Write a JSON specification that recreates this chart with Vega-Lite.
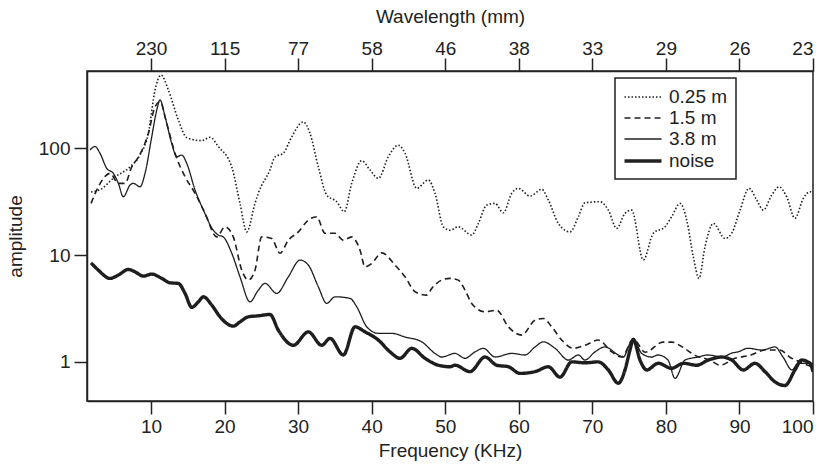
{
  "$schema": "https://vega.github.io/schema/vega-lite/v6.json",
  "width": 726,
  "height": 330,
  "autosize": {"type": "none"},
  "padding": {"left": 87, "top": 71, "right": 17, "bottom": 63},
  "background": "white",
  "config": {
    "font": "Liberation Sans",
    "view": {"stroke": "#222", "strokeWidth": 1.5},
    "axis": {
      "grid": false,
      "domainColor": "#222",
      "domainWidth": 1.5,
      "tickColor": "#222",
      "tickWidth": 1.5,
      "tickSize": 13,
      "labelFontSize": 19,
      "labelColor": "#222",
      "titleFontSize": 19,
      "titleFontWeight": "normal",
      "titleColor": "#222"
    },
    "legend": {
      "orient": "none",
      "legendX": 528,
      "legendY": 7,
      "strokeColor": "#222",
      "strokeWidth": 1.5,
      "fillColor": "white",
      "padding": 8,
      "symbolType": "M-1.85,0L1.85,0",
      "symbolSize": 400,
      "symbolOffset": 8,
      "symbolStrokeColor": "#222",
      "labelFontSize": 19,
      "labelColor": "#222",
      "labelOffset": 14,
      "rowPadding": 0
    }
  },
  "data": {
    "values": [
      {"series": "0.25 m", "freq": 1.85, "amp": 39},
      {"series": "0.25 m", "freq": 3.07, "amp": 41},
      {"series": "0.25 m", "freq": 5.11, "amp": 54},
      {"series": "0.25 m", "freq": 7.15, "amp": 67},
      {"series": "0.25 m", "freq": 8.51, "amp": 87},
      {"series": "0.25 m", "freq": 9.64, "amp": 138},
      {"series": "0.25 m", "freq": 10.55, "amp": 352},
      {"series": "0.25 m", "freq": 11.37, "amp": 486},
      {"series": "0.25 m", "freq": 12.36, "amp": 352},
      {"series": "0.25 m", "freq": 13.72, "amp": 184},
      {"series": "0.25 m", "freq": 14.86, "amp": 126},
      {"series": "0.25 m", "freq": 16.9, "amp": 118},
      {"series": "0.25 m", "freq": 18.03, "amp": 127},
      {"series": "0.25 m", "freq": 19.15, "amp": 104},
      {"series": "0.25 m", "freq": 20.98, "amp": 67},
      {"series": "0.25 m", "freq": 22.1, "amp": 30.5},
      {"series": "0.25 m", "freq": 23.02, "amp": 16.5},
      {"series": "0.25 m", "freq": 24.14, "amp": 30.5},
      {"series": "0.25 m", "freq": 24.59, "amp": 38},
      {"series": "0.25 m", "freq": 26.18, "amp": 63},
      {"series": "0.25 m", "freq": 26.86, "amp": 83},
      {"series": "0.25 m", "freq": 27.99, "amp": 90},
      {"series": "0.25 m", "freq": 29.13, "amp": 128},
      {"series": "0.25 m", "freq": 30.71, "amp": 177},
      {"series": "0.25 m", "freq": 31.62, "amp": 138},
      {"series": "0.25 m", "freq": 32.75, "amp": 67},
      {"series": "0.25 m", "freq": 33.89, "amp": 36.5},
      {"series": "0.25 m", "freq": 35.25, "amp": 31.6},
      {"series": "0.25 m", "freq": 36.28, "amp": 25.5},
      {"series": "0.25 m", "freq": 37.29, "amp": 47},
      {"series": "0.25 m", "freq": 38.65, "amp": 76.5},
      {"series": "0.25 m", "freq": 39.78, "amp": 62.6},
      {"series": "0.25 m", "freq": 40.91, "amp": 52.3},
      {"series": "0.25 m", "freq": 42.27, "amp": 83.4},
      {"series": "0.25 m", "freq": 43.62, "amp": 107},
      {"series": "0.25 m", "freq": 44.54, "amp": 89.8},
      {"series": "0.25 m", "freq": 46.13, "amp": 42.2},
      {"series": "0.25 m", "freq": 47.7, "amp": 50.5},
      {"series": "0.25 m", "freq": 48.61, "amp": 37.9},
      {"series": "0.25 m", "freq": 49.74, "amp": 18.4},
      {"series": "0.25 m", "freq": 50.65, "amp": 17.1},
      {"series": "0.25 m", "freq": 51.78, "amp": 18.4},
      {"series": "0.25 m", "freq": 53.6, "amp": 15.4},
      {"series": "0.25 m", "freq": 54.5, "amp": 19.8},
      {"series": "0.25 m", "freq": 55.64, "amp": 29.4},
      {"series": "0.25 m", "freq": 56.77, "amp": 30.5},
      {"series": "0.25 m", "freq": 57.9, "amp": 24.9},
      {"series": "0.25 m", "freq": 59.04, "amp": 37.9},
      {"series": "0.25 m", "freq": 59.94, "amp": 42.2},
      {"series": "0.25 m", "freq": 61.53, "amp": 35.7},
      {"series": "0.25 m", "freq": 63.12, "amp": 41.3},
      {"series": "0.25 m", "freq": 64.02, "amp": 32.8},
      {"series": "0.25 m", "freq": 65.38, "amp": 19.8},
      {"series": "0.25 m", "freq": 66.97, "amp": 16.5},
      {"series": "0.25 m", "freq": 68.1, "amp": 22.9},
      {"series": "0.25 m", "freq": 69.0, "amp": 30.9},
      {"series": "0.25 m", "freq": 71.04, "amp": 31.6},
      {"series": "0.25 m", "freq": 72.17, "amp": 26.4},
      {"series": "0.25 m", "freq": 73.31, "amp": 17.8},
      {"series": "0.25 m", "freq": 74.44, "amp": 24.6},
      {"series": "0.25 m", "freq": 75.35, "amp": 26.4},
      {"series": "0.25 m", "freq": 76.93, "amp": 9.0},
      {"series": "0.25 m", "freq": 78.29, "amp": 16},
      {"series": "0.25 m", "freq": 79.88, "amp": 18.4},
      {"series": "0.25 m", "freq": 80.79, "amp": 22.9},
      {"series": "0.25 m", "freq": 81.92, "amp": 30.5},
      {"series": "0.25 m", "freq": 82.83, "amp": 21.3},
      {"series": "0.25 m", "freq": 83.73, "amp": 9.64},
      {"series": "0.25 m", "freq": 84.5, "amp": 6.05},
      {"series": "0.25 m", "freq": 85.32, "amp": 12},
      {"series": "0.25 m", "freq": 86.45, "amp": 19.8},
      {"series": "0.25 m", "freq": 88.04, "amp": 14.3},
      {"series": "0.25 m", "freq": 88.95, "amp": 16},
      {"series": "0.25 m", "freq": 90.08, "amp": 26.4},
      {"series": "0.25 m", "freq": 91.3, "amp": 42.2},
      {"series": "0.25 m", "freq": 92.35, "amp": 32.8},
      {"series": "0.25 m", "freq": 93.24, "amp": 26.4},
      {"series": "0.25 m", "freq": 94.39, "amp": 36.5},
      {"series": "0.25 m", "freq": 95.38, "amp": 43.6},
      {"series": "0.25 m", "freq": 96.42, "amp": 35.2},
      {"series": "0.25 m", "freq": 97.55, "amp": 22.1},
      {"series": "0.25 m", "freq": 98.68, "amp": 34},
      {"series": "0.25 m", "freq": 99.59, "amp": 39.2},
      {"series": "0.25 m", "freq": 100, "amp": 38},

      {"series": "1.5 m", "freq": 1.85, "amp": 30.5},
      {"series": "1.5 m", "freq": 2.84, "amp": 43.6},
      {"series": "1.5 m", "freq": 4.43, "amp": 58.3},
      {"series": "1.5 m", "freq": 5.56, "amp": 47},
      {"series": "1.5 m", "freq": 6.47, "amp": 47},
      {"series": "1.5 m", "freq": 7.38, "amp": 67},
      {"series": "1.5 m", "freq": 8.28, "amp": 82.4},
      {"series": "1.5 m", "freq": 9.64, "amp": 138},
      {"series": "1.5 m", "freq": 10.55, "amp": 245},
      {"series": "1.5 m", "freq": 11.23, "amp": 273},
      {"series": "1.5 m", "freq": 12.14, "amp": 171},
      {"series": "1.5 m", "freq": 13.27, "amp": 89.8},
      {"series": "1.5 m", "freq": 14.63, "amp": 54.2},
      {"series": "1.5 m", "freq": 15.99, "amp": 37.9},
      {"series": "1.5 m", "freq": 17.35, "amp": 24.6},
      {"series": "1.5 m", "freq": 18.94, "amp": 14.8},
      {"series": "1.5 m", "freq": 20.07, "amp": 18.4},
      {"series": "1.5 m", "freq": 21.19, "amp": 14.8},
      {"series": "1.5 m", "freq": 22.34, "amp": 7.23},
      {"series": "1.5 m", "freq": 23.23, "amp": 5.83},
      {"series": "1.5 m", "freq": 24.14, "amp": 7.23},
      {"series": "1.5 m", "freq": 25.05, "amp": 14.8},
      {"series": "1.5 m", "freq": 26.41, "amp": 14.3},
      {"series": "1.5 m", "freq": 27.54, "amp": 10.4},
      {"series": "1.5 m", "freq": 28.67, "amp": 13.8},
      {"series": "1.5 m", "freq": 30.03, "amp": 16.5},
      {"series": "1.5 m", "freq": 31.39, "amp": 21.3},
      {"series": "1.5 m", "freq": 32.53, "amp": 22.9},
      {"series": "1.5 m", "freq": 33.66, "amp": 16},
      {"series": "1.5 m", "freq": 35.02, "amp": 16},
      {"series": "1.5 m", "freq": 36.15, "amp": 13.8},
      {"series": "1.5 m", "freq": 37.29, "amp": 14.8},
      {"series": "1.5 m", "freq": 38.42, "amp": 11.1},
      {"series": "1.5 m", "freq": 39.1, "amp": 7.77},
      {"series": "1.5 m", "freq": 40.01, "amp": 8.36},
      {"series": "1.5 m", "freq": 41.37, "amp": 10.5},
      {"series": "1.5 m", "freq": 43.18, "amp": 8.06},
      {"series": "1.5 m", "freq": 44.54, "amp": 6.26},
      {"series": "1.5 m", "freq": 45.9, "amp": 4.53},
      {"series": "1.5 m", "freq": 47.49, "amp": 4.22},
      {"series": "1.5 m", "freq": 48.17, "amp": 4.88},
      {"series": "1.5 m", "freq": 49.52, "amp": 5.83},
      {"series": "1.5 m", "freq": 50.65, "amp": 6.05},
      {"series": "1.5 m", "freq": 51.78, "amp": 5.83},
      {"series": "1.5 m", "freq": 52.69, "amp": 4.7},
      {"series": "1.5 m", "freq": 53.6, "amp": 3.53},
      {"series": "1.5 m", "freq": 55.41, "amp": 2.94},
      {"series": "1.5 m", "freq": 57.0, "amp": 3.05},
      {"series": "1.5 m", "freq": 58.58, "amp": 2.13},
      {"series": "1.5 m", "freq": 60.4, "amp": 1.78},
      {"series": "1.5 m", "freq": 62.21, "amp": 2.46},
      {"series": "1.5 m", "freq": 63.34, "amp": 2.55},
      {"series": "1.5 m", "freq": 64.48, "amp": 2.13},
      {"series": "1.5 m", "freq": 65.84, "amp": 1.6},
      {"series": "1.5 m", "freq": 67.42, "amp": 1.34},
      {"series": "1.5 m", "freq": 69.0, "amp": 1.43},
      {"series": "1.5 m", "freq": 70.81, "amp": 1.6},
      {"series": "1.5 m", "freq": 72.64, "amp": 1.24},
      {"series": "1.5 m", "freq": 74.0, "amp": 1.11},
      {"series": "1.5 m", "freq": 75.57, "amp": 1.63},
      {"series": "1.5 m", "freq": 77.2, "amp": 1.23},
      {"series": "1.5 m", "freq": 79.6, "amp": 1.53},
      {"series": "1.5 m", "freq": 80.8, "amp": 1.53},
      {"series": "1.5 m", "freq": 82.3, "amp": 1.37},
      {"series": "1.5 m", "freq": 83.95, "amp": 1.15},
      {"series": "1.5 m", "freq": 86.0, "amp": 1.04},
      {"series": "1.5 m", "freq": 87.35, "amp": 0.93},
      {"series": "1.5 m", "freq": 89.4, "amp": 1.08},
      {"series": "1.5 m", "freq": 91.4, "amp": 1.15},
      {"series": "1.5 m", "freq": 93.5, "amp": 1.29},
      {"series": "1.5 m", "freq": 95.5, "amp": 1.29},
      {"series": "1.5 m", "freq": 96.9, "amp": 1.1},
      {"series": "1.5 m", "freq": 98.2, "amp": 1.0},
      {"series": "1.5 m", "freq": 100, "amp": 0.89},

      {"series": "3.8 m", "freq": 1.71, "amp": 96.4},
      {"series": "3.8 m", "freq": 2.39, "amp": 104},
      {"series": "3.8 m", "freq": 3.07, "amp": 89.8},
      {"series": "3.8 m", "freq": 3.98, "amp": 65},
      {"series": "3.8 m", "freq": 4.88, "amp": 58.3},
      {"series": "3.8 m", "freq": 5.56, "amp": 47},
      {"series": "3.8 m", "freq": 6.24, "amp": 35.2},
      {"series": "3.8 m", "freq": 7.15, "amp": 45.3},
      {"series": "3.8 m", "freq": 7.6, "amp": 47},
      {"series": "3.8 m", "freq": 8.51, "amp": 43.6},
      {"series": "3.8 m", "freq": 9.19, "amp": 58.3},
      {"series": "3.8 m", "freq": 10.1, "amp": 128},
      {"series": "3.8 m", "freq": 10.78, "amp": 228},
      {"series": "3.8 m", "freq": 11.23, "amp": 284},
      {"series": "3.8 m", "freq": 11.91, "amp": 198},
      {"series": "3.8 m", "freq": 12.82, "amp": 111},
      {"series": "3.8 m", "freq": 13.5, "amp": 83.4},
      {"series": "3.8 m", "freq": 14.18, "amp": 86.5},
      {"series": "3.8 m", "freq": 14.86, "amp": 72.3},
      {"series": "3.8 m", "freq": 15.99, "amp": 40.6},
      {"series": "3.8 m", "freq": 17.12, "amp": 26.4},
      {"series": "3.8 m", "freq": 18.47, "amp": 17.1},
      {"series": "3.8 m", "freq": 19.15, "amp": 15.4},
      {"series": "3.8 m", "freq": 19.83, "amp": 14.8},
      {"series": "3.8 m", "freq": 20.98, "amp": 10.4},
      {"series": "3.8 m", "freq": 22.1, "amp": 6.26},
      {"series": "3.8 m", "freq": 23.46, "amp": 3.65},
      {"series": "3.8 m", "freq": 24.59, "amp": 4.7},
      {"series": "3.8 m", "freq": 25.5, "amp": 5.43},
      {"series": "3.8 m", "freq": 27.09, "amp": 4.38},
      {"series": "3.8 m", "freq": 28.67, "amp": 6.26},
      {"series": "3.8 m", "freq": 30.26, "amp": 8.98},
      {"series": "3.8 m", "freq": 31.39, "amp": 8.06},
      {"series": "3.8 m", "freq": 32.75, "amp": 5.05},
      {"series": "3.8 m", "freq": 33.89, "amp": 3.53},
      {"series": "3.8 m", "freq": 35.02, "amp": 4.07},
      {"series": "3.8 m", "freq": 37.06, "amp": 3.93},
      {"series": "3.8 m", "freq": 37.97, "amp": 3.28},
      {"series": "3.8 m", "freq": 39.33, "amp": 2.13},
      {"series": "3.8 m", "freq": 40.91, "amp": 1.85},
      {"series": "3.8 m", "freq": 42.73, "amp": 1.85},
      {"series": "3.8 m", "freq": 44.54, "amp": 1.71},
      {"series": "3.8 m", "freq": 46.81, "amp": 1.54},
      {"series": "3.8 m", "freq": 48.61, "amp": 1.2},
      {"series": "3.8 m", "freq": 49.52, "amp": 1.11},
      {"series": "3.8 m", "freq": 51.33, "amp": 1.2},
      {"series": "3.8 m", "freq": 52.69, "amp": 1.08},
      {"series": "3.8 m", "freq": 54.05, "amp": 1.24},
      {"series": "3.8 m", "freq": 55.18, "amp": 1.34},
      {"series": "3.8 m", "freq": 56.77, "amp": 1.11},
      {"series": "3.8 m", "freq": 59.04, "amp": 1.2},
      {"series": "3.8 m", "freq": 60.85, "amp": 1.16},
      {"series": "3.8 m", "freq": 62.21, "amp": 1.38},
      {"series": "3.8 m", "freq": 63.34, "amp": 1.54},
      {"series": "3.8 m", "freq": 64.93, "amp": 1.34},
      {"series": "3.8 m", "freq": 66.74, "amp": 1.04},
      {"series": "3.8 m", "freq": 68.1, "amp": 1.16},
      {"series": "3.8 m", "freq": 69.0, "amp": 1.04},
      {"series": "3.8 m", "freq": 70.36, "amp": 1.24},
      {"series": "3.8 m", "freq": 71.72, "amp": 1.38},
      {"series": "3.8 m", "freq": 73.53, "amp": 1.16},
      {"series": "3.8 m", "freq": 74.21, "amp": 1.11},
      {"series": "3.8 m", "freq": 75.12, "amp": 1.49},
      {"series": "3.8 m", "freq": 75.57, "amp": 1.66},
      {"series": "3.8 m", "freq": 76.71, "amp": 1.2},
      {"series": "3.8 m", "freq": 78.07, "amp": 1.11},
      {"series": "3.8 m", "freq": 78.93, "amp": 1.16},
      {"series": "3.8 m", "freq": 80.29, "amp": 1.04},
      {"series": "3.8 m", "freq": 81.24, "amp": 0.7},
      {"series": "3.8 m", "freq": 82.6, "amp": 1.04},
      {"series": "3.8 m", "freq": 84.37, "amp": 1.11},
      {"series": "3.8 m", "freq": 85.73, "amp": 1.16},
      {"series": "3.8 m", "freq": 87.63, "amp": 1.11},
      {"series": "3.8 m", "freq": 88.99, "amp": 1.21},
      {"series": "3.8 m", "freq": 89.8, "amp": 1.24},
      {"series": "3.8 m", "freq": 91.16, "amp": 1.34},
      {"series": "3.8 m", "freq": 93.07, "amp": 1.29},
      {"series": "3.8 m", "freq": 94.83, "amp": 1.38},
      {"series": "3.8 m", "freq": 95.92, "amp": 1.11},
      {"series": "3.8 m", "freq": 97.15, "amp": 0.84},
      {"series": "3.8 m", "freq": 97.96, "amp": 0.97},
      {"series": "3.8 m", "freq": 99.19, "amp": 0.97},
      {"series": "3.8 m", "freq": 100, "amp": 0.97},

      {"series": "noise", "freq": 1.85, "amp": 8.47},
      {"series": "noise", "freq": 2.84, "amp": 7.23},
      {"series": "noise", "freq": 4.43, "amp": 6.05},
      {"series": "noise", "freq": 5.56, "amp": 6.5},
      {"series": "noise", "freq": 6.92, "amp": 7.34},
      {"series": "noise", "freq": 7.83, "amp": 6.97},
      {"series": "noise", "freq": 8.96, "amp": 6.36},
      {"series": "noise", "freq": 10.1, "amp": 6.64},
      {"series": "noise", "freq": 11.46, "amp": 6.05},
      {"series": "noise", "freq": 12.59, "amp": 5.5},
      {"series": "noise", "freq": 13.72, "amp": 5.43},
      {"series": "noise", "freq": 14.63, "amp": 4.38},
      {"series": "noise", "freq": 15.54, "amp": 3.24},
      {"series": "noise", "freq": 16.44, "amp": 3.65},
      {"series": "noise", "freq": 17.12, "amp": 4.07},
      {"series": "noise", "freq": 18.26, "amp": 3.4},
      {"series": "noise", "freq": 19.39, "amp": 2.64},
      {"series": "noise", "freq": 20.3, "amp": 2.29},
      {"series": "noise", "freq": 21.19, "amp": 2.16},
      {"series": "noise", "freq": 22.1, "amp": 2.37},
      {"series": "noise", "freq": 23.23, "amp": 2.64},
      {"series": "noise", "freq": 24.59, "amp": 2.7},
      {"series": "noise", "freq": 26.18, "amp": 2.78},
      {"series": "noise", "freq": 27.31, "amp": 1.98},
      {"series": "noise", "freq": 29.35, "amp": 1.43},
      {"series": "noise", "freq": 31.39, "amp": 1.91},
      {"series": "noise", "freq": 33.21, "amp": 1.43},
      {"series": "noise", "freq": 34.34, "amp": 1.66},
      {"series": "noise", "freq": 36.15, "amp": 1.16},
      {"series": "noise", "freq": 37.74, "amp": 2.13},
      {"series": "noise", "freq": 39.1, "amp": 1.91},
      {"series": "noise", "freq": 40.91, "amp": 1.6},
      {"series": "noise", "freq": 42.5, "amp": 1.24},
      {"series": "noise", "freq": 43.86, "amp": 1.08},
      {"series": "noise", "freq": 45.45, "amp": 1.34},
      {"series": "noise", "freq": 47.25, "amp": 1.08},
      {"series": "noise", "freq": 49.06, "amp": 0.93},
      {"series": "noise", "freq": 50.65, "amp": 0.9},
      {"series": "noise", "freq": 51.33, "amp": 0.93},
      {"series": "noise", "freq": 53.37, "amp": 0.81},
      {"series": "noise", "freq": 55.41, "amp": 1.11},
      {"series": "noise", "freq": 57.0, "amp": 0.93},
      {"series": "noise", "freq": 58.58, "amp": 0.9},
      {"series": "noise", "freq": 60.17, "amp": 0.78},
      {"series": "noise", "freq": 62.21, "amp": 0.81},
      {"series": "noise", "freq": 64.02, "amp": 0.9},
      {"series": "noise", "freq": 65.61, "amp": 0.72},
      {"series": "noise", "freq": 67.2, "amp": 1.0},
      {"series": "noise", "freq": 69.0, "amp": 0.98},
      {"series": "noise", "freq": 70.81, "amp": 1.0},
      {"series": "noise", "freq": 72.17, "amp": 0.84},
      {"series": "noise", "freq": 73.53, "amp": 0.63},
      {"series": "noise", "freq": 74.44, "amp": 0.84},
      {"series": "noise", "freq": 75.12, "amp": 1.29},
      {"series": "noise", "freq": 75.57, "amp": 1.62},
      {"series": "noise", "freq": 76.48, "amp": 1.04},
      {"series": "noise", "freq": 77.39, "amp": 0.84},
      {"series": "noise", "freq": 78.97, "amp": 0.97},
      {"series": "noise", "freq": 80.79, "amp": 0.87},
      {"series": "noise", "freq": 82.37, "amp": 0.97},
      {"series": "noise", "freq": 84.19, "amp": 0.93},
      {"series": "noise", "freq": 85.77, "amp": 1.04},
      {"series": "noise", "freq": 87.59, "amp": 1.11},
      {"series": "noise", "freq": 88.95, "amp": 1.04},
      {"series": "noise", "freq": 90.53, "amp": 0.84},
      {"series": "noise", "freq": 92.11, "amp": 0.97},
      {"series": "noise", "freq": 93.47, "amp": 0.81},
      {"series": "noise", "freq": 94.83, "amp": 0.65},
      {"series": "noise", "freq": 96.19, "amp": 0.6},
      {"series": "noise", "freq": 97.55, "amp": 0.84},
      {"series": "noise", "freq": 98.46, "amp": 1.04},
      {"series": "noise", "freq": 99.59, "amp": 0.97},
      {"series": "noise", "freq": 100, "amp": 0.81}
    ]
  },
  "layer": [
    {
      "mark": {"type": "line", "interpolate": "monotone", "color": "#1e1e1e", "clip": true},
      "encoding": {
        "x": {
          "field": "freq",
          "type": "quantitative",
          "scale": {"domain": [1.3, 100], "nice": false, "zero": false},
          "axis": {
            "orient": "bottom",
            "values": [10, 20, 30, 40, 50, 60, 70, 80, 90, 100],
            "title": "Frequency (KHz)",
            "labelPadding": 3,
            "titlePadding": 5
          }
        },
        "y": {
          "field": "amp",
          "type": "quantitative",
          "scale": {"type": "log", "domain": [0.43, 530], "nice": false},
          "axis": {
            "values": [1, 10, 100],
            "format": "d",
            "title": "amplitude",
            "labelPadding": 4,
            "titlePadding": 13
          }
        },
        "strokeDash": {
          "field": "series",
          "type": "nominal",
          "scale": {
            "domain": ["0.25 m", "1.5 m", "3.8 m", "noise"],
            "range": [[1.5, 2], [6, 4], [1, 0], [1, 0]]
          },
          "legend": {"title": null}
        },
        "strokeWidth": {
          "field": "series",
          "type": "nominal",
          "scale": {
            "type": "ordinal",
            "domain": ["0.25 m", "1.5 m", "3.8 m", "noise"],
            "range": [1.6, 1.6, 1.3, 3.4]
          },
          "legend": {"title": null}
        },
        "detail": {"field": "series"}
      }
    },
    {
      "mark": {"type": "point", "opacity": 0},
      "encoding": {
        "x": {
          "field": "freq",
          "type": "quantitative",
          "axis": {
            "orient": "top",
            "values": [10, 20, 30, 40, 50, 60, 70, 80, 90, 100],
            "labelExpr": "format(round(2300 / datum.value), 'd')",
            "title": "Wavelength (mm)",
            "labelPadding": 0,
            "titlePadding": 13
          }
        }
      }
    }
  ],
  "resolve": {"scale": {"x": "shared"}, "axis": {"x": "independent"}}
}
